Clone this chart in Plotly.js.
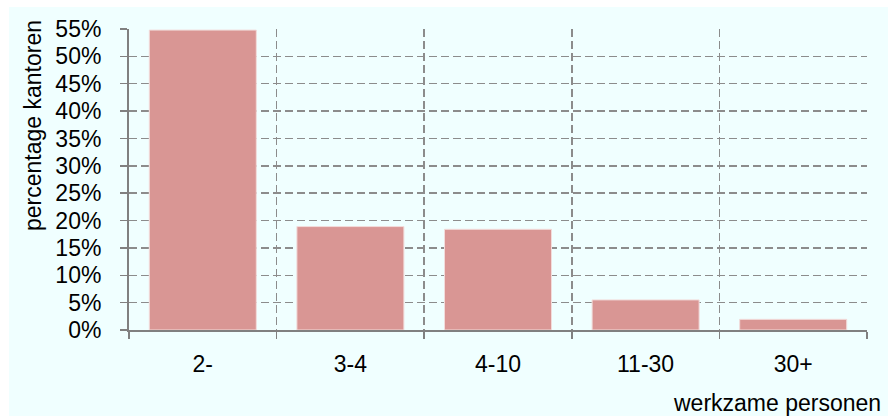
<!DOCTYPE html>
<html>
<head>
<meta charset="utf-8">
<script src="https://cdn.plot.ly/plotly-3.0.1.min.js"></script>
<style>
  html, body { margin: 0; padding: 0; background: #ffffff; }
  #chart { position: absolute; left: 9px; top: 7px; width: 879px; height: 409px; }
</style>
</head>
<body>
<div id="chart"></div>
<script>
const categories = ['2-', '3-4', '4-10', '11-30', '30+'];
const percentages = [54.8, 18.9, 18.4, 5.5, 1.95];
const yTickValues = [0, 5, 10, 15, 20, 25, 30, 35, 40, 45, 50, 55];
const yTickLabels = ['0%', '5%', '10%', '15%', '20%', '25%', '30%', '35%', '40%', '45%', '50%', '55%'];
const yTitle = 'percentage kantoren';
const xTitle = 'werkzame personen';

const font = { family: 'Liberation Sans, Arial, sans-serif', size: 23, color: '#000000' };

const trace = {
  type: 'bar',
  x: categories,
  y: percentages,
  marker: { color: '#D99694', line: { color: '#F2DCDB', width: 1 } },
  hoverinfo: 'x+y'
};

const layout = {
  width: 879,
  height: 409,
  margin: { l: 120, r: 21, t: 22, b: 86 },
  paper_bgcolor: '#F0FFFF',
  plot_bgcolor: '#F0FFFF',
  font: font,
  showlegend: false,
  bargap: 0.275,
  xaxis: {
    type: 'category',
    tickson: 'boundaries',
    showgrid: true,
    gridcolor: '#8C8C8C',
    gridwidth: 1.5,
    griddash: '8px,4px',
    showline: true,
    linecolor: '#808080',
    linewidth: 2,
    ticks: 'outside',
    ticklen: 7,
    tickcolor: '#808080',
    tickwidth: 1.5,
    tickfont: font,
    ticklabelstandoff: 12,
    zeroline: false
  },
  yaxis: {
    range: [0, 55],
    tickmode: 'array',
    tickvals: yTickValues,
    ticktext: yTickLabels,
    showgrid: true,
    gridcolor: '#8C8C8C',
    gridwidth: 1.5,
    griddash: '8px,4px',
    showline: true,
    linecolor: '#808080',
    linewidth: 2,
    ticks: 'outside',
    ticklen: 7,
    tickcolor: '#808080',
    tickwidth: 1.5,
    tickfont: font,
    ticklabelstandoff: 14,
    zeroline: false
  },
  annotations: [
    {
      text: yTitle,
      xref: 'paper', yref: 'paper',
      x: -0.1308, y: 1.0365,
      xanchor: 'center', yanchor: 'top',
      textangle: -90,
      showarrow: false,
      font: font
    },
    {
      text: xTitle,
      xref: 'paper', yref: 'paper',
      x: 1.0217, y: -0.241,
      xanchor: 'right', yanchor: 'middle',
      showarrow: false,
      font: font
    }
  ]
};

Plotly.newPlot('chart', [trace], layout, { displayModeBar: false, staticPlot: true });
</script>
</body>
</html>
